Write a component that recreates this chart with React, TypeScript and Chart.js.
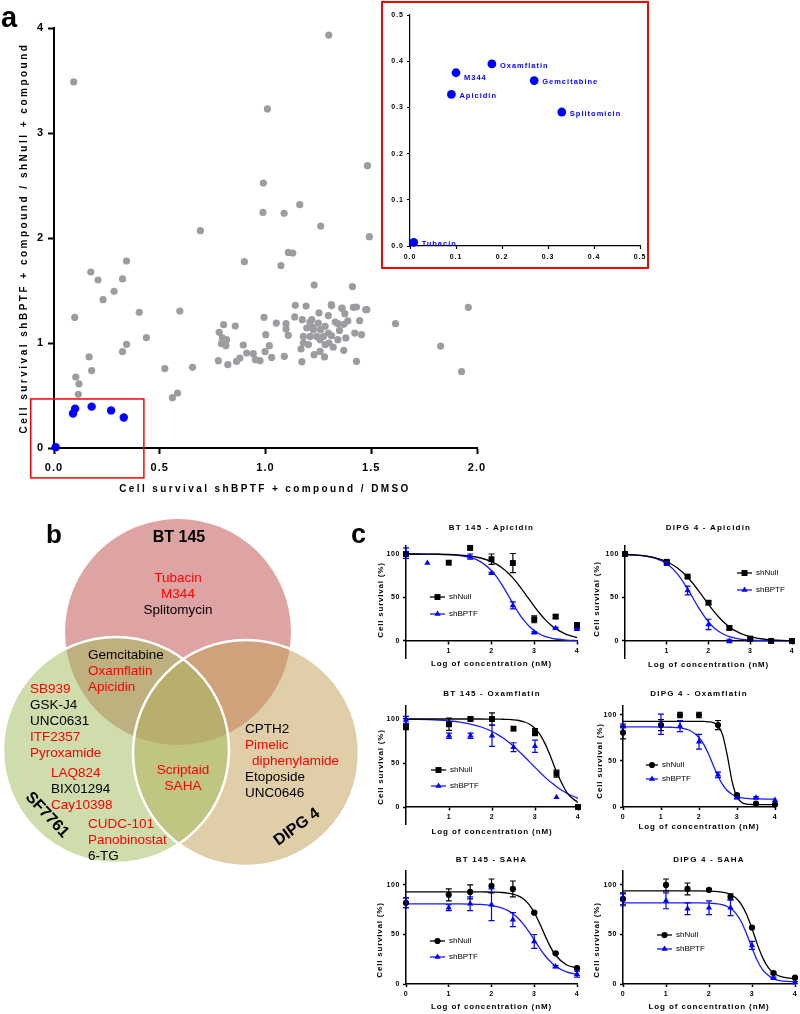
import React, { useEffect, useRef } from 'react';
import { Chart, registerables } from 'chart.js';

Chart.register(...registerables);

const FONT = '"Liberation Sans", Arial, Helvetica, sans-serif';
const BLUE = '#0000ff';
const CURVE_BLUE = '#1a1aff';
const GRAY = '#9d9da1';

// ---------------- Panel a : screen data ----------------
const grayX = [0.093, 1.299, 1.009, 1.482, 0.99, 0.988, 1.088, 1.162, 1.261, 1.491, 0.692,
  0.098, 0.174, 0.208, 0.284, 0.232, 0.324, 0.343, 0.403, 0.437, 0.343, 0.324, 0.166, 0.178, 0.103, 0.118, 0.115, 0.595, 0.524, 0.56, 0.584, 0.655,
  0.9, 1.073, 1.108, 1.129, 1.23, 1.411, 1.479, 1.615, 1.828, 1.927, 1.959, 1.43, 1.37, 1.454, 1.445, 1.415, 1.43, 1.361, 1.375, 1.389,
  1.37, 1.342, 1.313, 1.253, 1.297, 1.422, 1.38, 1.342, 1.312, 1.141, 1.192, 1.138, 1.174, 1.219, 1.25, 1.195, 1.226, 1.26, 1.282, 1.179,
  1.211, 1.242, 1.274, 1.297, 1.179, 1.203, 1.258, 1.282, 1.168, 1.23, 1.279, 1.258, 1.172, 1.089, 1.097, 1.097, 1.108, 1.051, 0.993, 1.001,
  1.018, 0.998, 1.029, 0.974, 0.952, 0.942, 0.911, 0.895, 0.879, 0.863, 0.822, 0.777, 0.857, 0.802, 0.781, 0.816, 0.803, 0.792, 0.813, 0.796,
  1.362, 1.474, 1.311, 1.225, 1.33, 1.35, 1.21, 1.3, 1.32];
const grayY = [3.486, 3.933, 3.229, 2.689, 2.524, 2.244, 2.235, 2.317, 2.114, 2.013, 2.07,
  1.244, 1.676, 1.6, 1.492, 1.413, 1.61, 1.781, 1.292, 1.051, 0.987, 0.917, 0.867, 0.737, 0.676, 0.61, 0.511, 1.305, 0.756, 0.479, 0.524, 0.768,
  1.775, 1.737, 1.863, 1.857, 1.552, 1.537, 1.317, 1.184, 0.971, 0.727, 1.34, 0.825, 0.93, 1.079, 1.213, 1.34, 1.343, 1.33, 1.279, 1.21,
  1.178, 1.184, 1.356, 1.286, 1.26, 1.095, 1.048, 1.032, 1.07, 1.359, 1.352, 1.248, 1.222, 1.222, 1.19, 1.143, 1.127, 1.127, 1.159, 1.063,
  1.063, 1.063, 1.063, 1.095, 1.0, 0.984, 1.032, 0.984, 0.943, 0.889, 0.867, 0.92, 0.822, 0.873, 1.184, 1.133, 1.073, 1.19, 1.244, 1.079,
  0.975, 0.917, 0.863, 0.832, 0.841, 0.898, 0.905, 0.981, 0.857, 0.825, 0.794, 0.832, 1.162, 1.175, 1.102, 1.032, 1.0, 0.994, 0.975, 1.048,
  1.333, 1.317, 1.365, 1.15, 1.2, 1.12, 1.2, 1.0, 0.96];
const hitNames = ['Tubacin', 'Apicidin', 'M344', 'Oxamflatin', 'Gemcitabine', 'Splitomicin'];
const hitX = [0.008, 0.09, 0.1, 0.178, 0.27, 0.33];
const hitY = [0.008, 0.328, 0.375, 0.394, 0.358, 0.29];
const mainXTicks = [0, 0.5, 1, 1.5, 2];
const mainYTicks = [0, 1, 2, 3, 4];
const insetTicks = [0, 0.1, 0.2, 0.3, 0.4, 0.5];
const zoomBox = [-0.11, 0.425, -0.285, 0.467]; // x0, x1, y0, y1 (data units)

// ---------------- Panel b : Venn ----------------
const vennSets = ['BT 145', 'SF7761', 'DIPG 4'];
const vennCX = [178, 116, 246];
const vennCY = [132, 250, 253];
const vennR = [113, 113, 113];
const vennLabels = ['Tubacin', 'M344', 'Splitomycin', 'Gemcitabine', 'Oxamflatin', 'Apicidin',
  'SB939', 'GSK-J4', 'UNC0631', 'ITF2357', 'Pyroxamide', 'LAQ824', 'BIX01294', 'Cay10398',
  'CUDC-101', 'Panobinostat', '6-TG', 'Scriptaid', 'SAHA', 'CPTH2', 'Pimelic', 'diphenylamide', 'Etoposide', 'UNC0646'];
const vennHdac = [1, 1, 0, 0, 1, 1, 1, 0, 0, 1, 1, 1, 0, 1, 1, 1, 0, 1, 1, 0, 1, 1, 0, 0];

// ---------------- Panel c : dose response ----------------
const fitX = [0, 0.25, 0.5, 0.75, 1, 1.25, 1.5, 1.75, 2, 2.125, 2.25, 2.375, 2.5, 2.625, 2.75, 2.875, 3, 3.125, 3.25, 3.375, 3.5, 3.75, 4];

const bt145ApiNullX = [0, 1, 1.5, 2, 2.5, 3, 3.5, 4];
const bt145ApiNullY = [100, 90, 107, 94, 89.6, 25, 28, 18];
const bt145ApiNullErr = [0, 0, 2, 6, 11, 4, 2, 3];
const bt145ApiBptfX = [0, 0.5, 1.5, 2, 2.5, 3, 3.5, 4];
const bt145ApiBptfY = [101, 89.6, 97, 78, 41, 9.6, 14.6, 13.5];
const bt145ApiBptfErr = [6, 0, 3, 1, 4, 1, 1, 1];
const bt145ApiNullFit = [100, 100, 99.8, 99.7, 99.4, 98.8, 97.7, 95.4, 91.3, 88.1, 84.0, 78.8, 72.5, 65.1, 56.8, 48.3, 39.8, 31.9, 24.9, 19.0, 14.2, 7.7, 4.0];
const bt145ApiBptfFit = [100, 100, 99.9, 99.7, 99.3, 98.3, 96.0, 91.0, 81.0, 73.5, 64.3, 53.9, 43.1, 33.0, 24.2, 17.2, 11.9, 8.1, 5.4, 3.6, 2.3, 1.0, 0.4];

const dipgApiNullX = [0, 1, 1.5, 2, 2.5, 3, 3.5, 4];
const dipgApiNullY = [100, 91, 74, 44, 15, 2.7, 0, 0];
const dipgApiNullErr = [0, 1, 1, 2, 2, 1, 0, 0];
const dipgApiBptfX = [0, 1, 1.5, 2, 2.5, 3, 3.5, 4];
const dipgApiBptfY = [100, 89, 58, 19, 0, 1, 0, 0];
const dipgApiBptfErr = [0, 2, 5, 6, 2, 0, 0, 0];
const dipgApiNullFit = [99.3, 98.7, 97.5, 95.2, 91.1, 84.1, 73.2, 58.5, 42.1, 34.3, 27.3, 21.2, 16.2, 12.2, 9.1, 6.7, 4.9, 3.6, 2.6, 1.9, 1.4, 0.7, 0.4];
const dipgApiBptfFit = [99.6, 99.0, 97.7, 94.8, 88.8, 77.5, 59.9, 39.3, 21.9, 15.6, 10.9, 7.5, 5.0, 3.4, 2.2, 1.5, 1.0, 0.6, 0.4, 0.3, 0.2, 0.1, 0];

const bt145OxaNullX = [0, 1, 1.5, 2, 2.5, 3, 3.5, 4];
const bt145OxaNullY = [91, 94, 100, 100, 89, 85, 38, 0];
const bt145OxaNullErr = [3, 7, 2, 7, 0, 4, 4, 0];
const bt145OxaBptfX = [0, 1, 1.5, 2, 2.5, 3, 3.5];
const bt145OxaBptfY = [99, 81, 81, 81, 68, 69, 11];
const bt145OxaBptfErr = [4, 3, 3, 12, 5, 7, 0];
const bt145OxaNullFit = [100, 100, 100, 100, 100, 100, 100, 100, 99.9, 99.9, 99.7, 99.5, 99.1, 98.3, 96.7, 94.1, 89.3, 81.7, 70.3, 55.7, 40.0, 15.8, 5.0];
const bt145OxaBptfFit = [99.7, 99.5, 99.2, 98.7, 97.8, 96.5, 94.3, 90.9, 85.8, 82.5, 78.6, 74.1, 69.0, 63.4, 57.4, 51.3, 45.0, 38.9, 33.1, 27.9, 23.1, 15.4, 9.9];

const dipgOxaNullX = [0, 1, 1.5, 2, 2.5, 3, 3.5, 4];
const dipgOxaNullY = [81, 89, 100, 100, 89, 13, 3.6, 2.6];
const dipgOxaNullErr = [7, 6, 3, 3, 5, 1, 0, 0];
const dipgOxaBptfX = [0, 1, 1.5, 2, 2.5, 3, 3.5, 4];
const dipgOxaBptfY = [88, 90, 88, 71, 35, 10, 10, 7.5];
const dipgOxaBptfErr = [2, 11, 6, 8, 3, 1, 1, 0];
const dipgOxaNullFit = [93, 93, 93, 93, 93, 93, 93, 93, 93, 93.0, 92.6, 91.7, 88.3, 77.9, 54.7, 27.1, 10.9, 5.0, 3.2, 2.7, 2.5, 2.5, 2.5];
const dipgOxaBptfFit = [87, 87, 87, 87, 86.9, 86.7, 86.0, 83.4, 75.6, 68.0, 57.5, 45.3, 33.5, 24.1, 17.6, 13.6, 11.3, 10.0, 9.3, 8.9, 8.8, 8.6, 8.5];

const bt145SahaNullX = [0, 1, 1.5, 2, 2.5, 3, 3.5, 4];
const bt145SahaNullY = [82, 90, 93, 99, 96, 72, 31, 16];
const bt145SahaNullErr = [5, 6, 7, 7, 8, 1, 1, 1];
const bt145SahaBptfX = [0, 1, 1.5, 2, 2.5, 3, 3.5, 4];
const bt145SahaBptfY = [82, 77, 81, 80, 65, 43, 17.5, 10];
const bt145SahaBptfErr = [5, 3, 7, 16, 7, 7, 1, 3];
const bt145SahaNullFit = [93, 93, 93, 93, 93, 93, 93, 93, 92.8, 92.7, 92.4, 91.8, 90.8, 89.0, 85.8, 80.4, 72.2, 61.3, 49.1, 37.7, 29.0, 19.5, 16.3];
const bt145SahaBptfFit = [81, 81, 81, 81, 80.9, 80.9, 80.7, 80.3, 79.2, 78.2, 76.7, 74.4, 71.0, 66.4, 60.2, 52.8, 44.5, 36.2, 28.8, 22.7, 18.0, 12.3, 9.8];

const dipgSahaNullX = [0, 1, 1.5, 2, 2.5, 3, 3.5, 4];
const dipgSahaNullY = [86, 100, 96, 95, 88, 57, 11, 6.4];
const dipgSahaNullErr = [6, 6, 6, 1, 3, 1, 1, 1];
const dipgSahaBptfX = [0, 1, 1.5, 2, 2.5, 3, 3.5, 4];
const dipgSahaBptfY = [85, 84, 76, 77, 77, 39, 6, 1.5];
const dipgSahaBptfErr = [6, 8, 6, 7, 8, 4, 1, 1];
const dipgSahaNullFit = [94, 94, 94, 94, 94, 94, 94, 94, 93.8, 93.6, 93.1, 92.2, 90.4, 86.9, 80.5, 70.2, 55.9, 40.0, 26.4, 16.9, 11.2, 6.6, 5.4];
const dipgSahaBptfFit = [82, 82, 82, 82, 82, 82, 82, 82, 81.7, 81.3, 80.6, 79.2, 76.4, 71.3, 62.8, 50.5, 36.3, 23.4, 14.1, 8.9, 5.2, 2.8, 2.2];

const doseYTicks = [0, 50, 100];
const seriesNames = ['shNull', 'shBPTF'];

// ---------------- helpers ----------------
type TextItem = {
  text: string; x: number; y: number; size: number; bold?: boolean; color?: string;
  align?: CanvasTextAlign; baseline?: CanvasTextBaseline; rotate?: number; spacing?: number;
};

function drawTexts(ctx: CanvasRenderingContext2D, items: TextItem[]) {
  for (const t of items) {
    ctx.save();
    ctx.font = `${t.bold ? 'bold ' : ''}${t.size}px ${FONT}`;
    ctx.fillStyle = t.color || '#000';
    ctx.textAlign = t.align || 'left';
    ctx.textBaseline = t.baseline || 'alphabetic';
    (ctx as any).letterSpacing = `${t.spacing || 0}px`;
    ctx.translate(t.x, t.y);
    if (t.rotate) ctx.rotate((t.rotate * Math.PI) / 180);
    ctx.fillText(t.text, 0, 0);
    ctx.restore();
  }
}

const xy = (xs: number[], ys: number[]) => xs.map((x, i) => ({ x, y: ys[i] }));

function spacingPlugin(px: number) {
  return {
    id: 'tickSpacing',
    beforeDraw(chart: any) {
      (chart.ctx as any).letterSpacing = `${px}px`;
    },
  };
}

function axis(opts: any) {
  const { min, max, ticks, size, fixed, tickLen, lw, pad, fmt, position, reverse } = opts;
  const isX = opts.isX;
  return {
    type: 'linear',
    min, max, reverse: !!reverse,
    position: position || (isX ? 'bottom' : 'left'),
    afterFit: (s: any) => { if (isX) s.height = fixed; else s.width = fixed; },
    afterBuildTicks: (s: any) => { s.ticks = ticks.map((v: number) => ({ value: v })); },
    grid: { drawOnChartArea: false, drawTicks: true, tickLength: tickLen, tickWidth: lw, tickColor: '#000', color: '#000' },
    border: { display: true, color: '#000', width: lw },
    ticks: {
      color: '#000', font: { family: FONT, size, weight: 'bold' }, padding: pad,
      autoSkip: false, maxRotation: 0, minRotation: 0,
      callback: fmt || ((v: any) => String(v)),
    },
  };
}

function marker(ctx: CanvasRenderingContext2D, style: string, x: number, y: number, r: number, color: string) {
  ctx.fillStyle = color;
  ctx.beginPath();
  if (style === 'rect') {
    const s = r * Math.SQRT1_2;
    ctx.rect(x - s, y - s, 2 * s, 2 * s);
  } else if (style === 'triangle') {
    ctx.moveTo(x, y - r);
    ctx.lineTo(x + r * 0.866, y + r * 0.5);
    ctx.lineTo(x - r * 0.866, y + r * 0.5);
    ctx.closePath();
  } else {
    ctx.arc(x, y, r, 0, Math.PI * 2);
  }
  ctx.fill();
}

const baseOptions = {
  animation: false,
  responsive: false,
  devicePixelRatio: 1,
  events: [],
};

// ---------------- main scatter ----------------
function mainConfig() {
  const W = 500, H = 500;
  const area = { l: 54, t: 28, r: 477, b: 448 };
  const yW = 44, xH = 30;
  return {
    type: 'scatter',
    data: {
      datasets: [
        { data: xy(hitX, hitY), backgroundColor: BLUE, borderWidth: 0, pointRadius: 4.2, clip: false, order: 0 },
        { data: xy(grayX, grayY), backgroundColor: GRAY, borderWidth: 0, pointRadius: 3.6, clip: false, order: 1 },
      ],
    },
    options: {
      ...baseOptions,
      layout: { padding: { left: area.l - yW, right: W - area.r, top: area.t, bottom: H - area.b - xH } },
      plugins: { legend: { display: false }, tooltip: { enabled: false } },
      scales: {
        x: axis({ isX: true, min: 0, max: 2, ticks: mainXTicks, size: 11, fixed: xH, tickLen: 6, lw: 2, pad: 7, fmt: (v: any) => Number(v).toFixed(1) }),
        y: axis({ isX: false, min: 0, max: 4, ticks: mainYTicks, size: 11, fixed: yW, tickLen: 6, lw: 2, pad: 4 }),
      },
    },
    plugins: [
      spacingPlugin(1),
      {
        id: 'mainDeco',
        afterDraw(chart: any) {
          const { ctx, scales } = chart;
          const x0 = scales.x.getPixelForValue(zoomBox[0]);
          const x1 = scales.x.getPixelForValue(zoomBox[1]);
          const y0 = scales.y.getPixelForValue(zoomBox[2]);
          const y1 = scales.y.getPixelForValue(zoomBox[3]);
          ctx.save();
          ctx.strokeStyle = '#ff0000';
          ctx.lineWidth = 1.5;
          ctx.strokeRect(x0, y1, x1 - x0, y0 - y1);
          ctx.restore();
          drawTexts(ctx, [
            { text: 'a', x: 1, y: 26.5, size: 29, bold: true },
            { text: 'Cell survival shBPTF + compound / shNull + compound', x: 24, y: 238, size: 10, bold: true, spacing: 2.5, align: 'center', baseline: 'middle', rotate: -90 },
            { text: 'Cell survival shBPTF + compound / DMSO', x: 265, y: 489, size: 10, bold: true, spacing: 2.4, align: 'center', baseline: 'middle' },
          ]);
        },
      },
    ],
  };
}

// ---------------- inset ----------------
function insetConfig() {
  const W = 268, H = 268;
  const area = { l: 29, t: 14, r: 259, b: 245 };
  const yW = 20, xH = 18;
  const fmt = (v: any) => Number(v).toFixed(1);
  return {
    type: 'scatter',
    data: {
      datasets: [
        { data: xy(hitX, hitY), backgroundColor: BLUE, borderWidth: 0, pointRadius: 4.4, clip: false },
      ],
    },
    options: {
      ...baseOptions,
      layout: { padding: { left: area.l - yW, right: W - area.r, top: area.t, bottom: H - area.b - xH } },
      plugins: { legend: { display: false }, tooltip: { enabled: false } },
      scales: {
        x: axis({ isX: true, min: 0, max: 0.5, ticks: insetTicks, size: 7, fixed: xH, tickLen: 3, lw: 1.2, pad: 4, fmt }),
        y: axis({ isX: false, min: 0, max: 0.5, ticks: insetTicks, size: 7, fixed: yW, tickLen: 3, lw: 1.2, pad: 3, fmt }),
      },
    },
    plugins: [
      {
        id: 'insetBg',
        beforeDraw(chart: any) {
          const { ctx, width, height } = chart;
          ctx.save();
          ctx.fillStyle = '#fff';
          ctx.fillRect(0, 0, width, height);
          ctx.restore();
          (ctx as any).letterSpacing = '1px';
        },
        afterDraw(chart: any) {
          const { ctx, width, height, scales } = chart;
          ctx.save();
          ctx.strokeStyle = '#ff0000';
          ctx.lineWidth = 2;
          ctx.strokeRect(1, 1, width - 2, height - 2);
          ctx.restore();
          drawTexts(ctx, hitNames.map((n, i) => ({
            text: n,
            x: scales.x.getPixelForValue(hitX[i]) + 8,
            y: scales.y.getPixelForValue(hitY[i]) + (n === 'M344' ? 5 : 1.5),
            size: 7.5, bold: true, color: BLUE, spacing: 1, baseline: 'middle' as CanvasTextBaseline,
          })));
        },
      },
    ],
  };
}

// ---------------- Venn ----------------
const vennFill = ['#dea4a4', 'rgba(163,188,93,0.52)', 'rgba(193,161,88,0.52)'];
const vennTextPos: [number, number, CanvasTextAlign][] = [
  [178, 82, 'center'], [178, 98, 'center'], [178, 113.5, 'center'],
  [88, 159, 'left'], [88, 175, 'left'], [88, 191, 'left'],
  [30, 193, 'left'], [30, 209, 'left'], [30, 225, 'left'], [30, 241, 'left'], [30, 257, 'left'],
  [51, 277, 'left'], [51, 293, 'left'], [51, 309, 'left'],
  [88, 328, 'left'], [88, 344, 'left'], [88, 360, 'left'],
  [183, 274, 'center'], [183, 290, 'center'],
  [245, 233, 'left'], [245, 249, 'left'], [252, 265, 'left'], [245, 281, 'left'], [245, 297, 'left'],
];
const vennSetLabelPos: [number, number, number][] = [[179, 38, 0], [47, 315, 47], [297, 327, -36]];

function vennConfig() {
  return {
    type: 'scatter',
    data: { datasets: [{ data: xy(vennCX, vennCY), pointRadius: 0 }] },
    options: {
      ...baseOptions,
      layout: { padding: 0 },
      plugins: { legend: { display: false }, tooltip: { enabled: false } },
      scales: {
        x: { type: 'linear', min: 0, max: 370, display: false },
        y: { type: 'linear', min: 0, max: 400, reverse: true, display: false },
      },
    },
    plugins: [
      {
        id: 'venn',
        beforeDatasetsDraw(chart: any) {
          const { ctx, scales } = chart;
          const circ = (i: number) => {
            const cx = scales.x.getPixelForValue(vennCX[i]);
            const cy = scales.y.getPixelForValue(vennCY[i]);
            const r = scales.x.getPixelForValue(vennCX[i] + vennR[i]) - cx;
            ctx.beginPath();
            ctx.arc(cx, cy, r, 0, Math.PI * 2);
          };
          ctx.save();
          [0, 2, 1].forEach((i) => {
            circ(i);
            ctx.fillStyle = vennFill[i];
            ctx.fill();
          });
          ctx.strokeStyle = '#ffffff';
          ctx.lineWidth = 2.5;
          [2, 1].forEach((i) => { circ(i); ctx.stroke(); });
          ctx.restore();
        },
        afterDraw(chart: any) {
          const { ctx, scales } = chart;
          const px = (v: number) => scales.x.getPixelForValue(v);
          const py = (v: number) => scales.y.getPixelForValue(v);
          const items: TextItem[] = vennLabels.map((n, i) => ({
            text: n, x: px(vennTextPos[i][0]), y: py(vennTextPos[i][1]), size: 13.5,
            color: vennHdac[i] ? '#ff0000' : '#000', align: vennTextPos[i][2],
          }));
          vennSets.forEach((s, i) => {
            items.push({
              text: s, x: px(vennSetLabelPos[i][0]), y: py(vennSetLabelPos[i][1]), size: 16, bold: true,
              align: 'center', baseline: 'middle', rotate: vennSetLabelPos[i][2],
            });
          });
          items.push({ text: 'b', x: 46, y: 43, size: 26, bold: true });
          items.push({ text: 'c', x: 351, y: 43, size: 27, bold: true });
          drawTexts(ctx, items);
        },
      },
    ],
  };
}

// ---------------- dose response ----------------
type DosePlot = {
  rect: [number, number, number, number];
  area: [number, number, number, number];
  yMin: number; yMax: number; zero: boolean; xTicks: number[];
  title: string; titleY: number; xTitleY: number; yTitle: [number, number];
  marker: string; legend: [number, number, number, number];
  nullX: number[]; nullY: number[]; nullErr: number[];
  bptfX: number[]; bptfY: number[]; bptfErr: number[];
  nullFit: number[]; bptfFit: number[];
};

const dosePlots: DosePlot[] = [
  {
    rect: [365, 518, 220, 160], area: [406, 545.3, 577, 658.4], yMin: -20, yMax: 110, zero: true, xTicks: [1, 2, 3, 4],
    title: 'BT 145 - Apicidin', titleY: 528, xTitleY: 664, yTitle: [381, 600], marker: 'rect', legend: [430, 597, 17, 15],
    nullX: bt145ApiNullX, nullY: bt145ApiNullY, nullErr: bt145ApiNullErr, bptfX: bt145ApiBptfX, bptfY: bt145ApiBptfY, bptfErr: bt145ApiBptfErr,
    nullFit: bt145ApiNullFit, bptfFit: bt145ApiBptfFit,
  },
  {
    rect: [585, 518, 215, 160], area: [625, 545.3, 792, 658.4], yMin: -20, yMax: 110, zero: true, xTicks: [1, 2, 3, 4],
    title: 'DIPG 4 - Apicidin', titleY: 528, xTitleY: 665, yTitle: [597, 599], marker: 'rect', legend: [737, 573, 17, 15],
    nullX: dipgApiNullX, nullY: dipgApiNullY, nullErr: dipgApiNullErr, bptfX: dipgApiBptfX, bptfY: dipgApiBptfY, bptfErr: dipgApiBptfErr,
    nullFit: dipgApiNullFit, bptfFit: dipgApiBptfFit,
  },
  {
    rect: [365, 686, 220, 160], area: [406, 705.8, 578, 824.6], yMin: -20, yMax: 115, zero: true, xTicks: [1, 2, 3, 4],
    title: 'BT 145 - Oxamflatin', titleY: 694, xTitleY: 832, yTitle: [381, 767], marker: 'rect', legend: [431, 770, 16, 15],
    nullX: bt145OxaNullX, nullY: bt145OxaNullY, nullErr: bt145OxaNullErr, bptfX: bt145OxaBptfX, bptfY: bt145OxaBptfY, bptfErr: bt145OxaBptfErr,
    nullFit: bt145OxaNullFit, bptfFit: bt145OxaBptfFit,
  },
  {
    rect: [585, 686, 215, 160], area: [623, 705.8, 775, 807], yMin: 0, yMax: 110, zero: false, xTicks: [0, 1, 2, 3, 4],
    title: 'DIPG 4 - Oxamflatin', titleY: 694, xTitleY: 827, yTitle: [600, 761], marker: 'circle', legend: [646, 765, 14, 12],
    nullX: dipgOxaNullX, nullY: dipgOxaNullY, nullErr: dipgOxaNullErr, bptfX: dipgOxaBptfX, bptfY: dipgOxaBptfY, bptfErr: dipgOxaBptfErr,
    nullFit: dipgOxaNullFit, bptfFit: dipgOxaBptfFit,
  },
  {
    rect: [365, 852, 220, 162], area: [406, 871.1, 577, 984], yMin: 0, yMax: 114, zero: false, xTicks: [0, 1, 2, 3, 4],
    title: 'BT 145 - SAHA', titleY: 860, xTitleY: 1007, yTitle: [380, 940], marker: 'circle', legend: [430, 941, 16, 15],
    nullX: bt145SahaNullX, nullY: bt145SahaNullY, nullErr: bt145SahaNullErr, bptfX: bt145SahaBptfX, bptfY: bt145SahaBptfY, bptfErr: bt145SahaBptfErr,
    nullFit: bt145SahaNullFit, bptfFit: bt145SahaBptfFit,
  },
  {
    rect: [585, 852, 215, 162], area: [623, 871.1, 795, 984], yMin: 0, yMax: 114, zero: false, xTicks: [0, 1, 2, 3, 4],
    title: 'DIPG 4 - SAHA', titleY: 860, xTitleY: 1007, yTitle: [597, 940], marker: 'circle', legend: [657, 935, 14, 15],
    nullX: dipgSahaNullX, nullY: dipgSahaNullY, nullErr: dipgSahaNullErr, bptfX: dipgSahaBptfX, bptfY: dipgSahaBptfY, bptfErr: dipgSahaBptfErr,
    nullFit: dipgSahaNullFit, bptfFit: dipgSahaBptfFit,
  },
];

function doseConfig(p: DosePlot) {
  const [cl, ct, cw, ch] = p.rect;
  const aL = p.area[0] - cl, aT = p.area[1] - ct, aR = p.area[2] - cl, aB = p.area[3] - ct;
  const yW = 30, xH = p.zero ? 0 : 22;
  const markerR = p.marker === 'rect' ? 4.2 : 3.1;
  const triR = 3.6;
  return {
    type: 'scatter',
    data: {
      datasets: [
        { label: seriesNames[0], data: xy(p.nullX, p.nullY), errors: p.nullErr, pointStyle: p.marker, pointRadius: markerR, backgroundColor: '#000', borderColor: '#000', borderWidth: 0, clip: false, order: 0 },
        { label: seriesNames[1], data: xy(p.bptfX, p.bptfY), errors: p.bptfErr, pointStyle: 'triangle', pointRadius: triR, backgroundColor: BLUE, borderColor: BLUE, borderWidth: 0, clip: false, order: 0 },
        { label: seriesNames[0] + ' fit', data: xy(fitX, p.nullFit), showLine: true, borderColor: '#000', borderWidth: 1.3, pointRadius: 0, cubicInterpolationMode: 'monotone', order: 1 },
        { label: seriesNames[1] + ' fit', data: xy(fitX, p.bptfFit), showLine: true, borderColor: CURVE_BLUE, borderWidth: 1.3, pointRadius: 0, cubicInterpolationMode: 'monotone', order: 1 },
      ],
    },
    options: {
      ...baseOptions,
      layout: { padding: { left: aL - yW, right: cw - aR, top: aT, bottom: ch - aB - xH } },
      plugins: { legend: { display: false }, tooltip: { enabled: false } },
      scales: {
        x: axis({ isX: true, min: 0, max: 4, ticks: p.xTicks, size: 7, fixed: xH, tickLen: 3, lw: 1.5, pad: 3, position: p.zero ? { y: 0 } : 'bottom' }),
        y: axis({ isX: false, min: p.yMin, max: p.yMax, ticks: doseYTicks, size: 7, fixed: yW, tickLen: 3, lw: 1.5, pad: 3 }),
      },
    },
    plugins: [
      spacingPlugin(0.6),
      {
        id: 'errorBars',
        afterDatasetsDraw(chart: any) {
          const { ctx, scales } = chart;
          chart.data.datasets.forEach((ds: any) => {
            if (!ds.errors) return;
            ctx.save();
            ctx.strokeStyle = ds.borderColor;
            ctx.lineWidth = 1.2;
            ds.data.forEach((pt: any, i: number) => {
              const e = ds.errors[i];
              if (!e) return;
              const px = scales.x.getPixelForValue(pt.x);
              const y1 = scales.y.getPixelForValue(pt.y - e);
              const y2 = scales.y.getPixelForValue(pt.y + e);
              ctx.beginPath();
              ctx.moveTo(px, y1); ctx.lineTo(px, y2);
              ctx.moveTo(px - 3, y1); ctx.lineTo(px + 3, y1);
              ctx.moveTo(px - 3, y2); ctx.lineTo(px + 3, y2);
              ctx.stroke();
            });
            ctx.restore();
          });
        },
        afterDraw(chart: any) {
          const { ctx, chartArea, scales } = chart;
          const cx = (chartArea.left + chartArea.right) / 2;
          // legend
          const [lx, ly, gap, len] = p.legend;
          const lxl = lx - cl, lyl = ly - ct;
          const styles = [p.marker, 'triangle'];
          const colors = ['#000', CURVE_BLUE];
          ctx.save();
          seriesNames.forEach((n, i) => {
            const yy = lyl + i * gap;
            ctx.strokeStyle = colors[i];
            ctx.lineWidth = 1.3;
            ctx.beginPath();
            ctx.moveTo(lxl, yy); ctx.lineTo(lxl + len, yy);
            ctx.stroke();
            marker(ctx, styles[i], lxl + len / 2, yy, i === 0 ? markerR : triR, i === 0 ? '#000' : BLUE);
          });
          ctx.restore();
          drawTexts(ctx, [
            ...seriesNames.map((n, i) => ({ text: n, x: lxl + len + 4, y: lyl + i * gap, size: 8, baseline: 'middle' as CanvasTextBaseline })),
            { text: p.title, x: cx, y: p.titleY - ct, size: 8, bold: true, spacing: 1.2, align: 'center', baseline: 'middle' },
            { text: 'Log of concentration (nM)', x: cx, y: p.xTitleY - ct, size: 8, bold: true, spacing: 0.9, align: 'center', baseline: 'middle' },
            { text: 'Cell survival (%)', x: p.yTitle[0] - cl, y: p.yTitle[1] - ct, size: 8, bold: true, spacing: 0.8, align: 'center', baseline: 'middle', rotate: -90 },
          ]);
          void scales;
        },
      },
    ],
  };
}

// ---------------- components ----------------
function ChartBox({ rect, make }: { rect: [number, number, number, number]; make: () => any }) {
  const ref = useRef<HTMLCanvasElement>(null);
  useEffect(() => {
    if (!ref.current) return;
    const c = new Chart(ref.current, make());
    return () => c.destroy();
  }, []);
  const [l, t, w, h] = rect;
  return (
    <canvas
      ref={ref}
      width={w}
      height={h}
      style={{ position: 'absolute', left: l, top: t, width: w, height: h }}
    />
  );
}

export default function App() {
  return (
    <div style={{ position: 'absolute', left: 0, top: 0, width: 800, height: 1014, background: '#fff', overflow: 'hidden' }}>
      <ChartBox rect={[0, 0, 500, 500]} make={mainConfig} />
      <ChartBox rect={[0, 500, 370, 400]} make={vennConfig} />
      {dosePlots.map((p, i) => (
        <ChartBox key={i} rect={p.rect} make={() => doseConfig(p)} />
      ))}
      <ChartBox rect={[381, 1, 268, 268]} make={insetConfig} />
    </div>
  );
}
